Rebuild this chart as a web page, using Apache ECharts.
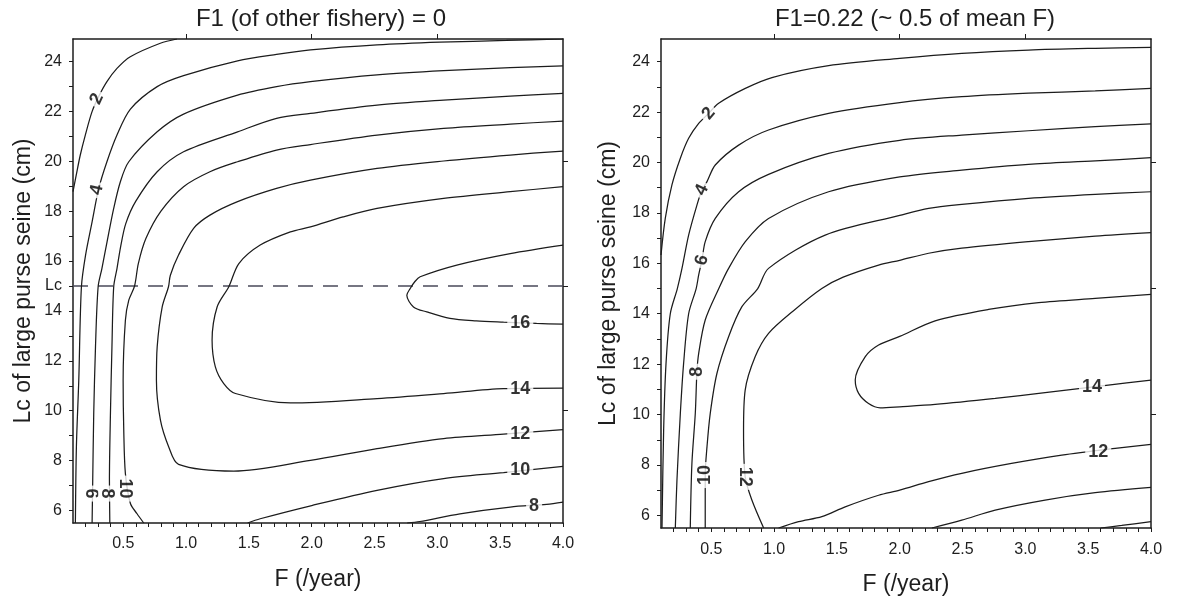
<!DOCTYPE html>
<html><head><meta charset="utf-8">
<script src="https://cdn.jsdelivr.net/npm/echarts@6/dist/echarts.min.js"></script>
<style>html,body{margin:0;padding:0;background:#fff}#c{width:1181px;height:602px}</style>
</head><body><div id="c"></div>
<script>
// ---------- axes / ticks ----------
const xLabels = [0.5,1.0,1.5,2.0,2.5,3.0,3.5,4.0];
const yLabelsLeft = [6,8,10,12,14,15,16,18,20,22,24];
const yLabelsRight = [6,8,10,12,14,16,18,20,22,24];
const LcValue = 15;
const titles = ["F1 (of other fishery) = 0", "F1=0.22 (~ 0.5 of mean F)"];

// ---------- left panel contours (F, Lc) ----------
const A_c2 = [[0.927,24.9],[0.795,24.73],[0.556,24.19],[0.45,23.72],[0.37,23.19],[0.304,22.59],[0.251,21.98],[0.198,21.05],[0.158,20.25],[0.126,19.45],[0.1,18.78]];
const A_c4 = [[4.0,24.9],[3.55,24.84],[3.02,24.77],[2.52,24.66],[1.99,24.46],[1.72,24.28],[1.41,24.02],[0.98,23.43],[0.77,22.99],[0.557,22.09],[0.45,21.05],[0.37,19.98],[0.305,18.91],[0.252,17.57],[0.2,16.24],[0.167,14.97],[0.146,11.22],[0.127,8.55],[0.119,5.5]];
const A_c6 = [[4.0,23.82],[3.58,23.75],[3.05,23.63],[2.52,23.46],[1.99,23.19],[1.72,22.99],[1.41,22.65],[0.98,21.89],[0.77,21.18],[0.544,19.98],[0.477,19.18],[0.424,18.11],[0.371,16.77],[0.33,15.7],[0.30,14.97],[0.279,12.56],[0.265,9.89],[0.257,7.21],[0.252,5.5]];
const A_c8 = [[4.0,22.72],[3.58,22.61],[3.05,22.45],[2.52,22.25],[1.99,21.92],[1.72,21.72],[1.41,21.18],[0.98,20.38],[0.77,19.58],[0.6,18.4],[0.52,17.5],[0.48,16.6],[0.45,15.7],[0.424,14.97],[0.41,12.56],[0.398,9.89],[0.39,7.21],[0.393,5.5]];
const A_c10 = [[4.0,21.61],[3.58,21.49],[3.05,21.32],[2.52,21.05],[1.99,20.67],[1.72,20.45],[1.41,19.98],[1.19,19.58],[0.98,18.98],[0.8,18.0],[0.68,16.9],[0.62,15.9],[0.59,15.0],[0.544,14.43],[0.517,13.63],[0.499,11.22],[0.504,9.22],[0.517,7.48],[0.557,6.28],[0.61,5.87],[0.663,5.5]];
const A_c10b = [[1.49,5.5],[1.59,5.67],[2.0,6.2],[2.52,6.81],[3.05,7.28],[3.527,7.52],[4.0,7.77]];
const A_c12 = [[4.0,20.41],[3.58,20.25],[3.05,20.01],[2.52,19.71],[1.99,19.24],[1.72,18.91],[1.41,18.38],[1.19,17.84],[1.06,17.31],[0.94,16.24],[0.875,15.43],[0.86,14.97],[0.81,14.16],[0.77,12.56],[0.764,11.22],[0.796,9.62],[0.862,8.55],[0.94,7.85],[1.38,7.58],[1.99,8.01],[2.52,8.48],[3.05,8.88],[3.527,9.06],[4.0,9.24]];
const A_c14 = [[4.0,18.98],[3.58,18.78],[3.05,18.51],[2.52,18.11],[2.25,17.77],[1.99,17.37],[1.83,17.17],[1.59,16.64],[1.42,15.9],[1.34,14.97],[1.247,14.16],[1.207,12.83],[1.233,11.76],[1.30,11.09],[1.393,10.69],[1.83,10.31],[2.52,10.49],[3.05,10.69],[3.527,10.89],[4.0,10.91]];
const A_c16 = [[4.0,16.64],[3.58,16.30],[3.155,15.84],[2.863,15.37],[2.82,15.17],[2.784,14.9],[2.757,14.63],[2.81,14.16],[2.916,13.96],[3.1,13.7],[3.31,13.6],[3.527,13.55],[3.79,13.5],[4.0,13.47]];
const A_c8b = [[2.76,5.5],[2.86,5.56],[3.18,5.87],[3.58,6.14],[3.87,6.25],[4.0,6.34]];
const A_Lc = [[0.1,15],[4.0,15]];
// labels: [F, Lc, text, rotation]
const A_labels = [[0.29,22.5,"2",65],[0.29,18.85,"4",78],[0.24,6.68,"6",-90],[0.371,6.68,"8",-90],[0.517,6.88,"10",-90],
  [3.66,13.5,"16",0],[3.66,10.85,"14",0],[3.66,9.08,"12",0],[3.66,7.61,"10",0],[3.77,6.2,"8",0]];

// ---------- right panel contours ----------
const B_c2 = [[0.1,16.33],[0.134,17.78],[0.187,19.11],[0.254,20.17],[0.32,20.96],[0.4,21.55],[0.479,21.95],[0.559,22.35],[0.771,22.94],[0.983,23.37],[1.434,23.84],[2.0,24.13],[2.494,24.33],[3.025,24.46],[3.556,24.53],[4.0,24.57]];
const B_c4 = [[4.0,22.94],[3.556,22.84],[3.025,22.75],[2.494,22.61],[2.0,22.38],[1.434,21.95],[0.956,21.29],[0.718,20.69],[0.532,19.9],[0.466,19.24],[0.426,18.91],[0.386,18.31],[0.32,17.12],[0.267,15.8],[0.23,15.0],[0.174,14.0],[0.14,12.03],[0.121,9.38],[0.108,5.5]];
const B_c6 = [[4.0,21.53],[3.556,21.42],[3.025,21.26],[2.494,21.09],[2.0,20.88],[1.434,20.36],[0.956,19.53],[0.718,18.84],[0.532,17.78],[0.452,16.86],[0.426,16.13],[0.4,15.54],[0.38,15.0],[0.32,14.0],[0.28,12.03],[0.254,10.05],[0.227,7.4],[0.214,5.5]];
const B_c8 = [[4.0,20.19],[3.556,20.06],[3.025,19.93],[2.494,19.70],[2.0,19.43],[1.434,18.84],[0.956,17.78],[0.771,16.86],[0.638,15.8],[0.56,15.0],[0.452,13.75],[0.4,12.43],[0.386,11.7],[0.373,10.05],[0.346,8.06],[0.333,5.5]];
const B_c10 = [[4.0,18.84],[3.556,18.74],[3.025,18.58],[2.494,18.34],[2.23,18.18],[2.0,17.9],[1.407,17.12],[0.956,15.8],[0.87,15.0],[0.744,14.28],[0.638,13.09],[0.545,11.63],[0.492,10.05],[0.466,8.72],[0.452,7.6],[0.452,5.5]];
const B_c12 = [[4.0,17.22],[3.556,17.08],[3.025,16.86],[2.494,16.6],[2.23,16.40],[2.0,16.12],[1.832,15.93],[1.55,15.45],[1.38,15.0],[1.15,14.1],[0.956,13.22],[0.85,12.3],[0.77,10.97],[0.757,9.38],[0.77,7.53],[0.824,6.6],[0.917,5.5]];
const B_c12b = [[1.036,5.5],[1.195,5.75],[1.38,5.95],[1.566,6.34],[1.832,6.8],[2.0,7.0],[2.23,7.34],[2.494,7.67],[2.89,8.06],[3.29,8.39],[3.715,8.66],[4.0,8.82]];
const B_c14 = [[4.0,14.77],[3.556,14.61],[3.105,14.44],[2.707,14.17],[2.282,13.72],[2.0,13.1],[1.832,12.76],[1.726,12.3],[1.646,11.37],[1.673,10.84],[1.752,10.44],[1.845,10.27],[2.0,10.31],[2.282,10.4],[2.76,10.64],[3.157,10.87],[3.66,11.17],[4.0,11.37]];
const B_c10b = [[2.256,5.5],[2.494,5.81],[2.76,6.21],[3.157,6.61],[3.556,6.9],[4.0,7.11]];
const B_c8b = [[3.6,5.5],[3.767,5.6],[4.0,5.75]];
const B_labels = [[0.479,21.95,"2",50],[0.426,18.91,"4",65],[0.426,16.13,"6",75],[0.386,11.7,"8",90],[0.452,7.6,"10",90],[0.77,7.53,"12",-90],
  [3.53,11.1,"14",0],[3.58,8.52,"12",0]];

// ---------- build ----------
const FONT = "Arimo, 'Liberation Sans', Arial, sans-serif";
const INK = '#1c1c1c';
const TXT = '#1e1e1e';
function range(a,b,s){const r=[];for(let v=a;v<=b+1e-9;v+=s)r.push(+v.toFixed(2));return r;}
const xMinor = range(0.2,4.0,0.1);
const yMinor = range(6,24,1);

function axesFor(g, yLabs){
  const xs = [
    {gridIndex:g, type:'value', position:'bottom', min:0.1, max:4.0,
     axisLine:{show:true,lineStyle:{color:INK,width:1.5}},
     axisTick:{show:true,customValues:xMinor,length:4,lineStyle:{color:INK}},
     axisLabel:{customValues:xLabels,formatter:v=>v.toFixed(1),fontSize:16,color:TXT,fontFamily:FONT,margin:g===0?13:14},
     splitLine:{show:false},
     name:'F (/year)', nameLocation:'middle', nameGap:45,
     nameTextStyle:{fontSize:23,color:TXT,fontFamily:FONT}},
    {gridIndex:g, type:'value', position:'top', min:0.1, max:4.0,
     axisLine:{show:true,lineStyle:{color:INK,width:1.5}},
     axisTick:{show:true,customValues:[1,2,3],length:5,lineStyle:{color:INK}},
     axisLabel:{show:false}, splitLine:{show:false}}
  ];
  const ys = [
    {gridIndex:g, type:'value', position:'left', min:5.5, max:24.9,
     axisLine:{show:true,lineStyle:{color:INK,width:1.5}},
     axisTick:{show:true,customValues:yMinor,length:4,lineStyle:{color:INK}},
     axisLabel:{customValues:yLabs,formatter:v=>(v===LcValue?'Lc':String(v)),fontSize:16,color:TXT,fontFamily:FONT,margin:11},
     splitLine:{show:false},
     name:'Lc of large purse seine (cm)', nameLocation:'middle', nameGap:g===0?38:41,
     nameTextStyle:{fontSize:23,color:TXT,fontFamily:FONT}},
    {gridIndex:g, type:'value', position:'right', min:5.5, max:24.9,
     axisLine:{show:true,lineStyle:{color:INK,width:1.5}},
     axisTick:{show:true,customValues:[10,15,20],length:5,lineStyle:{color:INK}},
     axisLabel:{show:false}, splitLine:{show:false}}
  ];
  return {xs, ys};
}
const a0 = axesFor(0, yLabelsLeft);
const a1 = axesFor(1, yLabelsRight);

function contour(data, xi, yi){
  return {type:'line', data, xAxisIndex:xi, yAxisIndex:yi, symbol:'none', smooth:0.3,
    lineStyle:{color:INK,width:1.25}, silent:true, animation:false, z:3};
}
function labels(arr, xi, yi){
  return {type:'scatter', xAxisIndex:xi, yAxisIndex:yi, symbolSize:1, itemStyle:{color:'rgba(0,0,0,0)'},
    silent:true, animation:false, z:5,
    data: arr.map(l=>({value:[l[0],l[1]], label:{show:true, position:'inside', formatter:l[2], rotate:l[3],
      fontSize:18, fontWeight:'bold', color:'#000', fontFamily:FONT, backgroundColor:'#fff', padding:[0,3]}}))};
}

const series = [];
[A_c2,A_c4,A_c6,A_c8,A_c10,A_c10b,A_c12,A_c14,A_c16,A_c8b].forEach(d=>series.push(contour(d,0,0)));
series.push({type:'line', data:A_Lc, xAxisIndex:0, yAxisIndex:0, symbol:'none',
  lineStyle:{color:'#4a4a5a',width:1.3,type:[15,10]}, silent:true, animation:false, z:2});
series.push(labels(A_labels,0,0));
[B_c2,B_c4,B_c6,B_c8,B_c10,B_c12,B_c12b,B_c14,B_c10b,B_c8b].forEach(d=>series.push(contour(d,2,2)));
series.push(labels(B_labels,2,2));

const option = {
  animation:false,
  backgroundColor:'#fff',
  title:[
    {text:titles[0], left:316, top:2, textAlign:'center', textStyle:{fontSize:24,fontWeight:'normal',color:TXT,fontFamily:FONT}},
    {text:titles[1], left:910, top:2, textAlign:'center', textStyle:{fontSize:24,fontWeight:'normal',color:TXT,fontFamily:FONT}}
  ],
  grid:[{left:73,top:39,width:490,height:484},{left:661,top:39,width:490,height:489}],
  xAxis:[...a0.xs, ...a1.xs],
  yAxis:[...a0.ys, ...a1.ys],
  series
};
const chart = echarts.init(document.getElementById('c'), null, {renderer:'canvas'});
chart.setOption(option);
</script></body></html>
